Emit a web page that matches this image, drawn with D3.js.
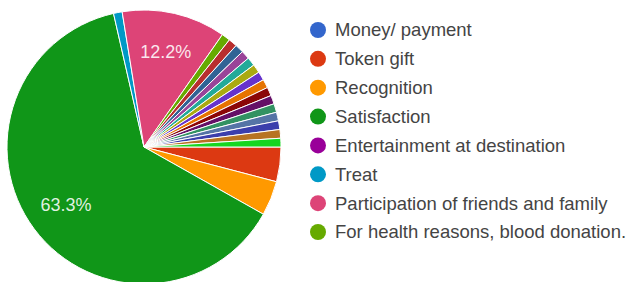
<!doctype html>
<html>
<head>
  <meta charset="utf-8">
  <title>Pie chart</title>
  <script src="https://d3js.org/d3.v7.min.js"></script>
  <style>
    body { margin: 0; background: #fff; }
    #chart text { font-family: "Liberation Sans", Arial, sans-serif; }
  </style>
</head>
<body>
  <div id="chart"></div>
  <script>
    // legend shows only the first 8 answers
    var labels = ["Money/ payment", "Token gift", "Recognition", "Satisfaction",
      "Entertainment at destination", "Treat", "Participation of friends and family",
      "For health reasons, blood donation."];
    // responses per answer, in slice order (the tail answers are not in the legend)
    var counts = [0, 4, 4, 62, 0, 1, 12, 1, 1, 1, 1, 1, 1, 1, 1, 1, 1, 1, 1, 1, 1, 1];
    var colors = ["#3366cc", "#dc3912", "#ff9900", "#109618", "#990099", "#0099c6",
      "#dd4477", "#66aa00", "#b82e2e", "#316395", "#994499", "#22aa99", "#aaaa11",
      "#6633cc", "#e67300", "#8b0707", "#651067", "#329262", "#5574a6", "#3b3eac",
      "#b77322", "#16d620"];

    var width = 631, height = 282;
    var cx = 144, cy = 147, radius = 137;

    var svg = d3.select("#chart").append("svg")
      .attr("width", width)
      .attr("height", height);

    var total = d3.sum(counts);

    // slices start at 3 o'clock and run clockwise
    var pie = d3.pie()
      .sort(null)
      .startAngle(Math.PI / 2)
      .endAngle(Math.PI / 2 + 2 * Math.PI);

    var arcs = pie(counts);
    var arc = d3.arc().innerRadius(0).outerRadius(radius);
    var labelArc = d3.arc().innerRadius(radius * 0.71).outerRadius(radius * 0.71);

    var g = svg.append("g")
      .attr("transform", "translate(" + cx + "," + cy + ")");

    g.selectAll("path")
      .data(arcs.filter(function(d) { return d.value > 0; }))
      .enter()
      .append("path")
      .attr("d", arc)
      .attr("fill", function(d) { return colors[d.index]; })
      .attr("stroke", "#fff")
      .attr("stroke-width", 1);

    g.selectAll("text.pct")
      .data(arcs.filter(function(d) { return d.value / total > 0.05; }))
      .enter()
      .append("text")
      .attr("class", "pct")
      .attr("transform", function(d) { return "translate(" + labelArc.centroid(d) + ")"; })
      .attr("text-anchor", "middle")
      .attr("dy", "0.35em")
      .attr("fill", "#fff")
      .attr("fill-opacity", 0.88)
      .style("font-size", "18px")
      .text(function(d) { return d3.format(".1%")(d.value / total); });

    // legend
    var rowY = d3.scalePoint()
      .domain(d3.range(labels.length))
      .range([30, 232]);

    var legend = svg.selectAll("g.legend")
      .data(labels)
      .enter()
      .append("g")
      .attr("class", "legend")
      .attr("transform", function(d, i) { return "translate(318," + rowY(i) + ")"; });

    legend.append("circle")
      .attr("r", 8)
      .attr("fill", function(d, i) { return colors[i]; });

    legend.append("text")
      .attr("x", 17)
      .attr("dy", "0.35em")
      .attr("fill", "#444")
      .style("font-size", "18.5px")
      .text(function(d) { return d; });
  </script>
</body>
</html>
